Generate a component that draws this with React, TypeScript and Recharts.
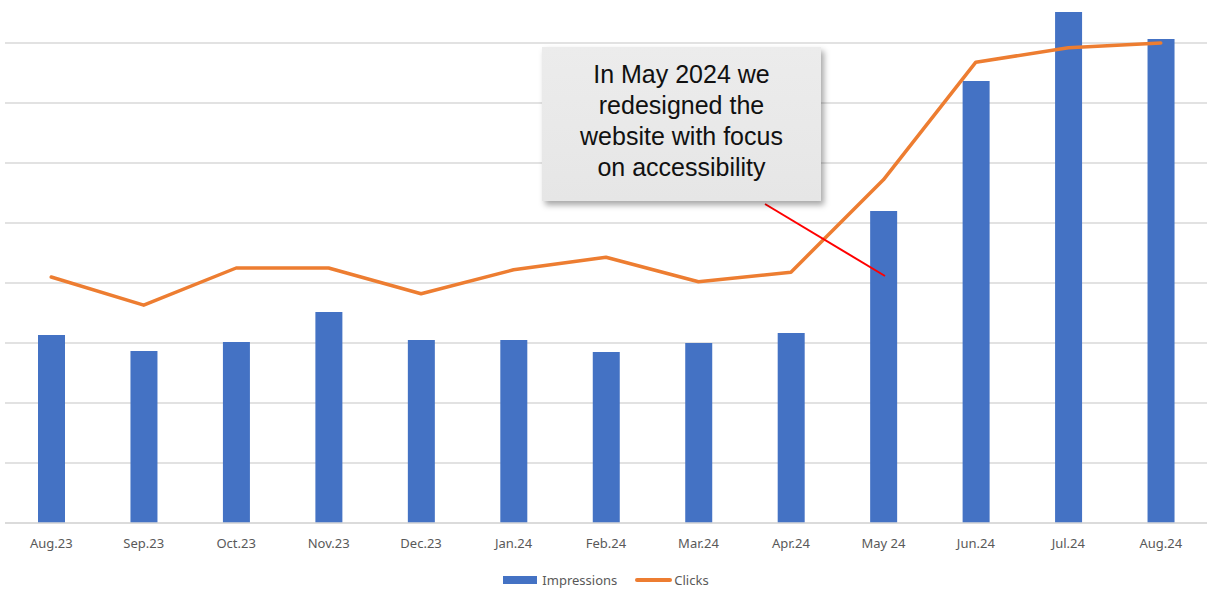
import React from "react";
import {
  ComposedChart,
  Bar,
  Line,
  XAxis,
  YAxis,
  CartesianGrid,
  Legend,
} from "recharts";

const MONTHS = [
  "Aug.23", "Sep.23", "Oct.23", "Nov.23", "Dec.23", "Jan.24", "Feb.24",
  "Mar.24", "Apr.24", "May 24", "Jun.24", "Jul.24", "Aug.24",
];
const IMPRESSIONS = [1567, 1433, 1508, 1758, 1525, 1525, 1425, 1500, 1583, 2600, 3683, 4258, 4033];
const CLICKS = [410, 363, 425, 425, 382, 422, 443, 402, 418, 572, 768, 792, 800];
const IMP_TICKS = [0, 500, 1000, 1500, 2000, 2500, 3000, 3500, 4000];

const BLUE = "#4472C4";
const ORANGE = "#ED7D31";
const AXIS_TEXT = "#595959";
const GRID = "#d9d9d9";

const data = MONTHS.map((m, i) => ({
  month: m,
  impressions: IMPRESSIONS[i],
  clicks: CLICKS[i],
}));

const renderLegend = () => (
  <div
    style={{
      display: "flex",
      justifyContent: "center",
      alignItems: "center",
      paddingTop: 19,
      fontFamily: "'Noto Sans', sans-serif",
      fontSize: 13,
      color: AXIS_TEXT,
      lineHeight: "16px",
    }}
  >
    <span style={{ display: "inline-block", width: 34, height: 8, background: BLUE, marginRight: 5 }} />
    <span style={{ marginRight: 18 }}>Impressions</span>
    <span style={{ display: "inline-block", width: 37, height: 4, borderRadius: 2, background: ORANGE, marginRight: 2 }} />
    <span>Clicks</span>
  </div>
);

export default function App() {
  return (
    <div style={{ position: "absolute", left: 0, top: 0, width: 1212, height: 591, background: "#fff" }}>
      <ComposedChart
        width={1212}
        height={591}
        data={data}
        margin={{ top: 7, right: 5, left: 5, bottom: 0 }}
        barCategoryGap={0}
      >
        <CartesianGrid
          vertical={false}
          stroke={GRID}
          strokeWidth={1.5}
          yAxisId="imp"
          horizontalValues={IMP_TICKS}
        />
        <XAxis
          dataKey="month"
          height={30}
          tickLine={false}
          axisLine={{ stroke: GRID, strokeWidth: 1.5 }}
          tickMargin={10}
          interval={0}
          tick={{ fontSize: 13, fill: AXIS_TEXT, fontFamily: "'Noto Sans', sans-serif" }}
        />
        <YAxis yAxisId="imp" hide domain={[0, 4300]} ticks={IMP_TICKS} />
        <YAxis yAxisId="clk" hide orientation="right" domain={[0, 860]} />
        <Legend verticalAlign="bottom" height={38} content={renderLegend} />
        <Bar
          yAxisId="imp"
          dataKey="impressions"
          name="Impressions"
          fill={BLUE}
          barSize={27}
          isAnimationActive={false}
        />
        <Line
          yAxisId="clk"
          type="linear"
          dataKey="clicks"
          name="Clicks"
          stroke={ORANGE}
          strokeWidth={3.5}
          dot={false}
          strokeLinecap="round"
          strokeLinejoin="round"
          isAnimationActive={false}
        />
      </ComposedChart>

      {/* annotation leader */}
      <svg
        width={1212}
        height={591}
        style={{ position: "absolute", left: 0, top: 0, pointerEvents: "none" }}
      >
        <line x1={765} y1={204} x2={885} y2={276} stroke="#ff0000" strokeWidth={2} />
      </svg>

      {/* annotation callout */}
      <div
        style={{
          position: "absolute",
          left: 542,
          top: 47,
          width: 279,
          height: 154,
          background: "linear-gradient(#ececec, #e6e6e6)",
          boxShadow: "3px 4px 6px rgba(0,0,0,0.35)",
          display: "flex",
          alignItems: "center",
          justifyContent: "center",
          textAlign: "center",
          fontFamily: "'Liberation Sans', Arial, sans-serif",
          fontSize: 25,
          lineHeight: "31px",
          color: "#111",
        }}
      >
        <div style={{ marginTop: -6 }}>
          In May 2024 we
          <br />
          redesigned the
          <br />
          website with focus
          <br />
          on accessibility
        </div>
      </div>
    </div>
  );
}
